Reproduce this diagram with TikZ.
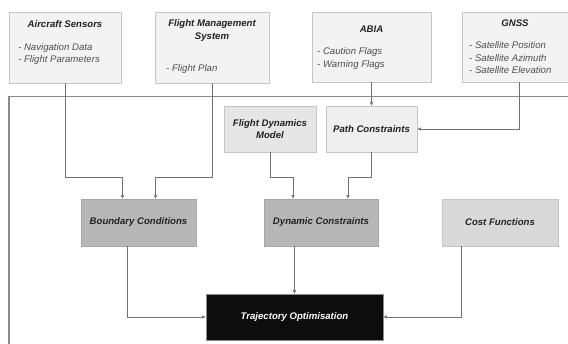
\documentclass[tikz,border=0pt]{standalone}
\usepackage{fontspec}
\setmainfont{Liberation Sans}
\usepackage{xcolor}
\usetikzlibrary{arrows.meta, positioning, calc}
\definecolor{sourcegray}{HTML}{F3F3F3}
\definecolor{modelgray}{HTML}{E6E6E6}
\definecolor{pathgray}{HTML}{EFEFEF}
\definecolor{constraintgray}{HTML}{B7B7B7}
\definecolor{costgray}{HTML}{D9D9D9}
\definecolor{edgegray}{HTML}{C6C6C6}
\definecolor{darkedge}{HTML}{A6A6A6}
\definecolor{linegray}{HTML}{707070}
\definecolor{framegray}{HTML}{8C8C8C}
\definecolor{textdark}{HTML}{222222}
\tikzstyle{source} = [rectangle, draw=edgegray, fill=sourcegray, line width=0.8pt]
\tikzstyle{block} = [rectangle, draw=edgegray, line width=0.8pt, text centered, align=center, font=\fontsize{9.6}{12.5}\selectfont\bfseries\itshape, text=textdark]
\tikzstyle{title} = [inner sep=0pt, align=center, font=\fontsize{9.6}{12.5}\selectfont\bfseries\itshape, text=textdark]
\tikzstyle{items} = [inner sep=0pt, align=left, anchor=west, font=\fontsize{9.6}{12.5}\selectfont\itshape, text=textdark!80]
\tikzstyle{arrow} = [line width=0.6pt, draw=linegray, -{Triangle[length=3.5pt, width=3pt]}]

\begin{document}
\begin{tikzpicture}[x=1pt, y=-1pt]
\useasboundingbox (0,0) rectangle (568,343);
\clip (0,0) rectangle (568,343);

% Frame
\draw [framegray, line width=1.3pt] (9,350) -- (9,96.5) -- (580,96.5);

% Sources
\node (acs) [source, minimum width=112, minimum height=71] at (65,47.5) {};
\node (acstitle) [title] at (65,24) {Aircraft Sensors};
\node (acsitems) [items] at (18,54) {- Navigation Data\\- Flight Parameters};

\node (fms) [source, minimum width=114, minimum height=71] at (212,47.5) {};
\node (fmstitle) [title] at (212,30.5) {Flight Management\\System};
\node (fmsitems) [items] at (166,69) {- Flight Plan};

\node (abia) [source, minimum width=119, minimum height=70] at (371.5,47) {};
\node (abiatitle) [title] at (371.5,29) {ABIA};
\node (abiaitems) [items] at (317,58.5) {- Caution Flags\\- Warning Flags};

\node (gnss) [source, minimum width=107, minimum height=70] at (515.5,47) {};
\node (gnsstitle) [title] at (515,23) {GNSS};
\node (gnssitems) [items] at (469,58) {- Satellite Position\\- Satellite Azimuth\\- Satellite Elevation};

% Model and constraints
\node (fdm) [block, fill=modelgray, minimum width=92, minimum height=46] at (270,129) {Flight Dynamics\\Model};
\node (path) [block, fill=pathgray, minimum width=91, minimum height=46] at (371.5,129) {Path Constraints};

\node (bc) [block, fill=constraintgray, draw=darkedge, minimum width=115, minimum height=47] at (138.5,222.5) {Boundary Conditions};
\node (dc) [block, fill=constraintgray, draw=darkedge, minimum width=114, minimum height=47] at (321,222.5) {Dynamic Constraints};
\node (cost) [block, fill=costgray, minimum width=116, minimum height=47] at (500,222.5) {Cost Functions};

% Optimiser
\node (traj) [block, fill=black!95, draw=framegray, text=white, minimum width=177, minimum height=46] at (294.5,317) {Trajectory Optimisation};

% Arrows
\draw [arrow] (acs.south) -- ++(0,94) -| ($(bc.north)+(-16,0)$);
\draw [arrow] (fms.south) -- ++(0,94) -| ($(bc.north)+(17,0)$);
\draw [arrow] (abia.south) -- (path.north);
\draw [arrow] ($(gnss.south)+(3.5,0)$) |- (path.east);
\draw [arrow] (fdm.south) -- ++(0,25) -| ($(dc.north)+(-28,0)$);
\draw [arrow] (path.south) -- ++(0,25) -| ($(dc.north)+(27,0)$);
\draw [arrow] ($(bc.south)+(-11.5,0)$) |- (traj.west);
\draw [arrow] (traj.north |- dc.south) -- (traj.north);
\draw [arrow] ($(cost.south)+(-39,0)$) |- (traj.east);

\end{tikzpicture}
\end{document}
